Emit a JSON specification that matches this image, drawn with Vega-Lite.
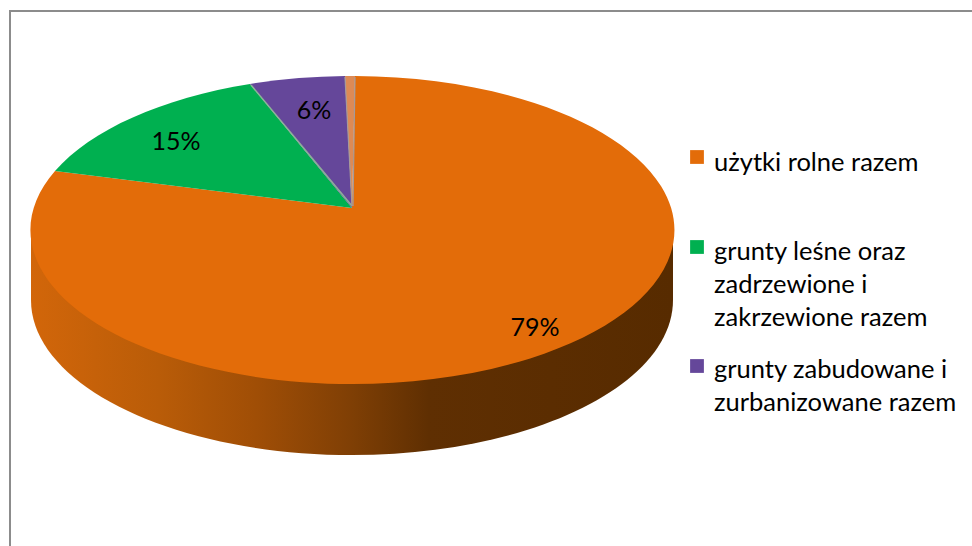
{
"$schema":"https://vega.github.io/schema/vega-lite/v6.json",
"width":972,"height":546,"padding":0,"autosize":{"type":"none"},
"background":"white",
"view":{"stroke":null},
"config":{"font":"Lato"},
"datasets":{"slices":[
{"kategoria":"użytki rolne razem","udzial":79,"etykieta":"79%","label_x":535,"label_y":336,"legend_y":157,"legend_text_y":171,"legend_text":"użytki rolne razem"},
{"kategoria":"grunty leśne oraz zadrzewione i zakrzewione razem","udzial":15,"etykieta":"15%","label_x":176,"label_y":150,"legend_y":247,"legend_text_y":260,"legend_text":"grunty leśne oraz\nzadrzewione i\nzakrzewione razem"},
{"kategoria":"grunty zabudowane i zurbanizowane razem","udzial":6,"etykieta":"6%","label_x":314,"label_y":119,"legend_y":366,"legend_text_y":378,"legend_text":"grunty zabudowane  i\nzurbanizowane razem"},
{"kategoria":"pozostałe","udzial":0.5}
]},
"data":{"name":"slices"},
"encoding":{
"x":{"type":"quantitative","scale":{"domain":[0,972],"nice":false,"zero":false},"axis":null},
"y":{"type":"quantitative","scale":{"domain":[546,0],"nice":false,"zero":false},"axis":null}
},
"layer":[
{"data":{"values":[{"n":"frame"}]},"mark":{"type":"rule","color":"#8c8c8c","strokeWidth":2},
 "encoding":{"x":{"datum":10},"y":{"datum":10},"y2":{"datum":546}}},
{"data":{"values":[{"n":"frame"}]},"mark":{"type":"rule","color":"#8c8c8c","strokeWidth":2},
 "encoding":{"x":{"datum":9},"x2":{"datum":972},"y":{"datum":11}}},
{"data":{"values":[{"n":"side"}]},
 "mark":{"type":"point","filled":true,"opacity":1,"size":4,
  "shape":"M-321,22 L-321,92 A321 155 0 0 0 321,92 L321,22 Z",
  "color":{"gradient":"linear","x1":0,"y1":0,"x2":1,"y2":0,"stops":[
   {"offset":0,"color":"#d2660a"},{"offset":0.2,"color":"#b95c08"},{"offset":0.35,"color":"#a04e06"},{"offset":0.5,"color":"#7f3f05"},{"offset":0.62,"color":"#5f2f02"},{"offset":1,"color":"#572b00"}]}},
 "encoding":{"x":{"datum":352},"y":{"datum":208}}},
{"mark":{"type":"point","filled":true,"opacity":1,"size":4},
 "encoding":{
  "x":{"datum":352},"y":{"datum":208},
  "order":{"field":"udzial","sort":"descending"},
  "color":{"field":"kategoria","type":"nominal","legend":null,"sort":null,
   "scale":{"domain":["użytki rolne razem","grunty leśne oraz zadrzewione i zakrzewione razem","grunty zabudowane i zurbanizowane razem","pozostałe"],"range":["#e36c09","#00b050","#65479a","#dd8a55"]}},
  "shape":{"field":"kategoria","type":"nominal","legend":null,"sort":null,
   "scale":{"domain":["użytki rolne razem","grunty leśne oraz zadrzewione i zakrzewione razem","grunty zabudowane i zurbanizowane razem","pozostałe"],
    "range":["M0,0 L3,-132 A322 154 0 1 1 -297,-37 Z","M0,0 L-297,-37 A322 154 0 0 1 -102,-124 Z","M0,0 L-102,-124 A322 154 0 0 1 -7,-132 Z","M0,0 L-7,-132 A322 154 0 0 1 3,-132 Z"]}}
 }},
{"data":{"values":[{"n":"edge"}]},"mark":{"type":"rule","color":"#8fb39a","strokeWidth":1.5},
 "encoding":{"x":{"datum":352},"y":{"datum":206},"x2":{"datum":251},"y2":{"datum":85}}},
{"data":{"values":[{"n":"edge"}]},"mark":{"type":"rule","color":"#a59a9a","strokeWidth":1.2},
 "encoding":{"x":{"datum":352},"y":{"datum":206},"x2":{"datum":345},"y2":{"datum":77}}},
{"data":{"values":[{"n":"edge"}]},"mark":{"type":"rule","color":"#a59a9a","strokeWidth":1.2},
 "encoding":{"x":{"datum":353},"y":{"datum":206},"x2":{"datum":355},"y2":{"datum":77}}},
{"transform":[{"filter":"isValid(datum.etykieta)"}],
 "mark":{"type":"text","fontSize":25,"color":"#000000","align":"center","baseline":"alphabetic"},
 "encoding":{"x":{"field":"label_x","type":"quantitative"},"y":{"field":"label_y","type":"quantitative"},"text":{"field":"etykieta"}}},
{"transform":[{"filter":"isValid(datum.legend_text)"}],
 "mark":{"type":"square","filled":true,"opacity":1,"size":190},
 "encoding":{"x":{"datum":697},"y":{"field":"legend_y","type":"quantitative"},
  "color":{"field":"kategoria","type":"nominal","legend":null,"sort":null}}},
{"transform":[{"filter":"isValid(datum.legend_text)"}],
 "mark":{"type":"text","fontSize":25.5,"color":"#000000","align":"left","baseline":"alphabetic","lineBreak":"\n","lineHeight":33},
 "encoding":{"x":{"datum":714},"y":{"field":"legend_text_y","type":"quantitative"},"text":{"field":"legend_text"}}}
]
}
